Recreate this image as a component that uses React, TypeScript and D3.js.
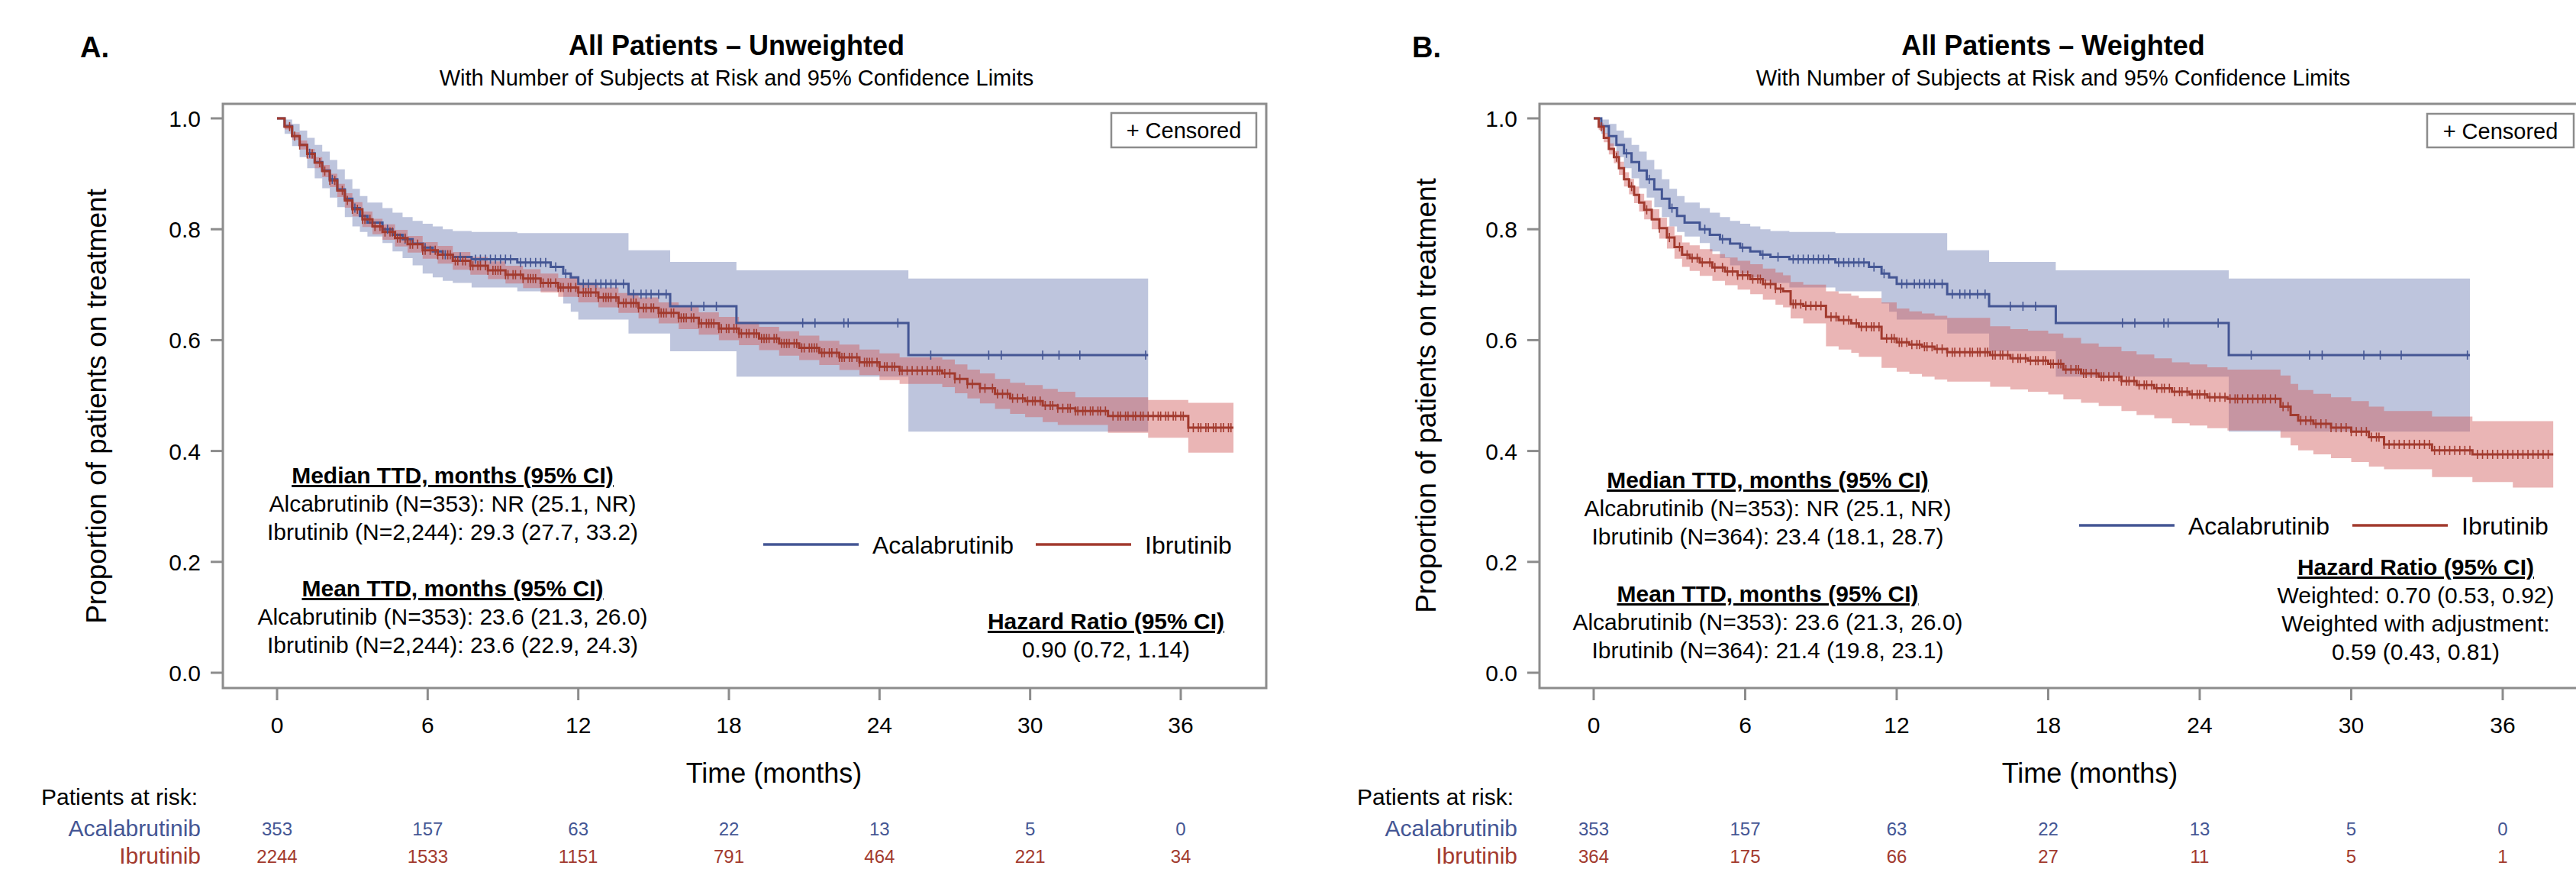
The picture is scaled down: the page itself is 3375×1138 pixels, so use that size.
import React from 'react';
import * as d3 from 'd3';

const W = 3375;
const H = 1138;
const FONT = "'Liberation Sans', Arial, Helvetica, sans-serif";
const BLUE = '#445694';
const RED = '#A23A2E';
const BLUE_FILL = '#6F7EB3';
const RED_FILL = '#D05B5B';
const AXIS = '#8C8C8C';

// ---- Acalabrutinib (same cohort in both panels) ----
const acalaTime = [0, 0.3, 0.6, 0.9, 1.2, 1.5, 1.8, 2.1, 2.4, 2.7, 3.0, 3.3, 3.6, 4.2, 4.6, 5.0, 5.4, 5.8, 6.2, 6.6, 7.0, 7.75, 9.57, 10.9, 11.4, 11.7, 12.0, 14.0, 15.66, 18.3, 25.15, 34.7];
const acalaSurv = [1.0, 0.986, 0.968, 0.952, 0.937, 0.921, 0.906, 0.89, 0.872, 0.855, 0.838, 0.824, 0.812, 0.8, 0.79, 0.782, 0.774, 0.767, 0.76, 0.754, 0.75, 0.746, 0.74, 0.732, 0.72, 0.713, 0.7015, 0.683, 0.661, 0.631, 0.573, 0.573];
const acalaLower = [1.0, 0.972, 0.95, 0.93, 0.91, 0.892, 0.874, 0.857, 0.84, 0.822, 0.805, 0.795, 0.787, 0.775, 0.76, 0.748, 0.735, 0.72, 0.713, 0.707, 0.703, 0.695, 0.688, 0.688, 0.666, 0.651, 0.637, 0.612, 0.58, 0.534, 0.435, 0.435];
const acalaUpper = [1.0, 0.998, 0.99, 0.978, 0.965, 0.952, 0.94, 0.925, 0.908, 0.89, 0.873, 0.86, 0.848, 0.838, 0.83, 0.822, 0.815, 0.81, 0.805, 0.8, 0.797, 0.795, 0.793, 0.793, 0.793, 0.793, 0.793, 0.762, 0.741, 0.726, 0.711, 0.711];
const acalaCensored = [1.3, 2.2, 3.1, 4.4, 5.1, 5.9, 6.7, 7.3, 7.9, 8.1, 8.3, 8.5, 8.7, 8.9, 9.1, 9.3, 9.7, 9.9, 10.1, 10.3, 10.5, 10.7, 11.1, 11.5, 12.2, 12.4, 12.7, 12.9, 13.1, 13.3, 13.5, 13.8, 14.2, 14.5, 14.7, 14.9, 15.2, 15.5, 16.5, 17.0, 17.5, 20.94, 21.43, 22.58, 22.75, 24.73, 26.04, 28.35, 28.85, 30.5, 31.15, 31.98, 34.6];

// ---- Ibrutinib, unweighted (panel A) ----
const ibruATime = [0, 0.3, 0.6, 0.9, 1.2, 1.5, 1.8, 2.1, 2.4, 2.7, 3.0, 3.4, 3.8, 4.2, 4.7, 5.2, 5.8, 6.4, 7.0, 7.7, 8.4, 9.1, 9.8, 10.5, 11.2, 12.0, 12.8, 13.6, 14.4, 15.2, 16.0, 16.8, 17.6, 18.4, 19.2, 20.0, 20.8, 21.6, 22.4, 23.2, 24.0, 24.8, 26.5, 27.0, 27.5, 28.0, 28.6, 29.2, 29.8, 30.5, 31.1, 31.8, 33.1, 34.7, 36.3, 38.1];
const ibruASurv = [1.0, 0.985, 0.968, 0.952, 0.936, 0.92, 0.905, 0.888, 0.87, 0.852, 0.836, 0.818, 0.805, 0.795, 0.784, 0.773, 0.762, 0.754, 0.743, 0.734, 0.726, 0.718, 0.711, 0.703, 0.695, 0.686, 0.677, 0.667, 0.658, 0.649, 0.64, 0.63, 0.621, 0.612, 0.603, 0.594, 0.586, 0.577, 0.569, 0.56, 0.552, 0.545, 0.54, 0.53, 0.521, 0.513, 0.503, 0.495, 0.49, 0.482, 0.477, 0.472, 0.463, 0.463, 0.442, 0.442];
const ibruALower = [1.0, 0.98, 0.961, 0.944, 0.927, 0.91, 0.894, 0.876, 0.858, 0.839, 0.823, 0.804, 0.791, 0.781, 0.769, 0.758, 0.747, 0.738, 0.727, 0.718, 0.71, 0.702, 0.694, 0.686, 0.678, 0.668, 0.659, 0.649, 0.639, 0.63, 0.62, 0.61, 0.6, 0.591, 0.582, 0.572, 0.564, 0.555, 0.546, 0.537, 0.528, 0.521, 0.515, 0.504, 0.495, 0.486, 0.476, 0.467, 0.461, 0.452, 0.447, 0.447, 0.433, 0.424, 0.397, 0.397];
const ibruAUpper = [1.0, 0.99, 0.975, 0.96, 0.945, 0.93, 0.916, 0.9, 0.882, 0.865, 0.849, 0.832, 0.819, 0.809, 0.799, 0.788, 0.777, 0.77, 0.759, 0.75, 0.742, 0.734, 0.728, 0.72, 0.712, 0.704, 0.695, 0.685, 0.677, 0.668, 0.66, 0.65, 0.642, 0.633, 0.624, 0.616, 0.608, 0.599, 0.592, 0.583, 0.576, 0.569, 0.565, 0.556, 0.547, 0.54, 0.53, 0.523, 0.519, 0.512, 0.507, 0.497, 0.497, 0.492, 0.487, 0.487];
const ibruACensored = [0.5, 0.7, 0.9, 1.2, 1.4, 1.7, 1.9, 2.1, 2.3, 2.6, 2.8, 3.0, 3.2, 3.4, 3.5, 3.7, 3.9, 4.1, 4.3, 4.5, 4.6, 4.8, 4.9, 5.1, 5.3, 5.4, 5.6, 5.8, 5.9, 6.1, 6.3, 6.4, 6.6, 6.8, 6.9, 7.1, 7.2, 7.4, 7.5, 7.7, 7.8, 8.0, 8.1, 8.3, 8.4, 8.6, 8.7, 8.8, 8.9, 9.1, 9.2, 9.4, 9.5, 9.7, 9.8, 10.0, 10.1, 10.2, 10.3, 10.5, 10.6, 10.8, 10.9, 11.1, 11.2, 11.3, 11.4, 11.6, 11.7, 11.9, 12.0, 12.2, 12.3, 12.4, 12.5, 12.7, 12.8, 13.0, 13.1, 13.2, 13.3, 13.5, 13.6, 13.8, 13.9, 14.1, 14.2, 14.3, 14.4, 14.6, 14.7, 14.9, 15.0, 15.2, 15.3, 15.4, 15.5, 15.7, 15.8, 16.0, 16.1, 16.2, 16.3, 16.5, 16.6, 16.8, 16.9, 17.1, 17.2, 17.3, 17.4, 17.6, 17.7, 17.9, 18.0, 18.2, 18.3, 18.4, 18.5, 18.7, 18.8, 19.0, 19.1, 19.3, 19.4, 19.5, 19.6, 19.8, 19.9, 20.1, 20.2, 20.3, 20.4, 20.6, 20.7, 20.9, 21.0, 21.2, 21.3, 21.4, 21.5, 21.7, 21.8, 22.0, 22.1, 22.3, 22.4, 22.5, 22.6, 22.8, 22.9, 23.1, 23.2, 23.4, 23.5, 23.6, 23.7, 23.9, 24.0, 24.2, 24.3, 24.5, 24.6, 24.8, 24.9, 25.1, 25.3, 25.5, 25.7, 25.9, 26.1, 26.3, 26.4, 26.6, 26.8, 27.0, 27.2, 27.5, 27.7, 28.0, 28.2, 28.5, 28.7, 28.9, 29.1, 29.3, 29.5, 29.7, 29.9, 30.1, 30.2, 30.4, 30.6, 30.8, 30.9, 31.1, 31.3, 31.5, 31.6, 31.8, 31.9, 32.1, 32.2, 32.4, 32.5, 32.7, 32.8, 33.0, 33.3, 33.5, 33.6, 33.8, 33.9, 34.1, 34.2, 34.4, 34.5, 34.7, 34.9, 35.1, 35.2, 35.4, 35.5, 35.7, 35.8, 36.0, 36.1, 36.3, 36.5, 36.7, 36.8, 37.0, 37.1, 37.3, 37.4, 37.6, 37.7, 37.9, 38.0];

// ---- Ibrutinib, weighted (panel B) ----
const ibruBTime = [0, 0.2, 0.4, 0.6, 0.8, 1.0, 1.2, 1.4, 1.6, 1.8, 2.0, 2.3, 2.6, 2.9, 3.2, 3.5, 3.8, 4.2, 4.7, 5.2, 5.7, 6.2, 6.7, 7.2, 7.5, 7.8, 8.3, 9.2, 9.7, 10.2, 10.5, 11.4, 12.0, 12.5, 13.0, 13.5, 14.0, 15.7, 16.5, 17.2, 18.0, 18.6, 19.3, 20.0, 20.9, 21.5, 22.2, 22.9, 23.6, 24.3, 25.1, 27.2, 27.6, 27.9, 28.5, 29.2, 30.0, 30.7, 31.3, 33.2, 34.8, 36.4, 38.0];
const ibruBSurv = [1.0, 0.985, 0.965, 0.945, 0.93, 0.91, 0.89, 0.877, 0.862, 0.848, 0.835, 0.818, 0.802, 0.785, 0.768, 0.754, 0.748, 0.74, 0.731, 0.724, 0.717, 0.71, 0.701, 0.693, 0.688, 0.665, 0.662, 0.642, 0.636, 0.63, 0.624, 0.603, 0.596, 0.592, 0.588, 0.584, 0.578, 0.573, 0.567, 0.563, 0.557, 0.547, 0.54, 0.534, 0.526, 0.519, 0.513, 0.507, 0.502, 0.497, 0.494, 0.48, 0.465, 0.455, 0.449, 0.442, 0.435, 0.425, 0.412, 0.401, 0.394, 0.394, 0.394];
const ibruBLower = [1.0, 0.979, 0.957, 0.935, 0.919, 0.898, 0.877, 0.863, 0.847, 0.832, 0.818, 0.8, 0.783, 0.765, 0.747, 0.732, 0.725, 0.716, 0.707, 0.699, 0.691, 0.683, 0.673, 0.664, 0.659, 0.639, 0.63, 0.589, 0.583, 0.577, 0.57, 0.55, 0.543, 0.539, 0.534, 0.529, 0.525, 0.516, 0.511, 0.507, 0.502, 0.493, 0.487, 0.481, 0.472, 0.465, 0.459, 0.45, 0.446, 0.441, 0.437, 0.424, 0.41, 0.401, 0.394, 0.387, 0.38, 0.372, 0.367, 0.353, 0.344, 0.334, 0.334];
const ibruBUpper = [1.0, 0.991, 0.973, 0.955, 0.941, 0.922, 0.903, 0.891, 0.877, 0.864, 0.852, 0.836, 0.821, 0.805, 0.789, 0.776, 0.771, 0.764, 0.755, 0.749, 0.743, 0.737, 0.729, 0.722, 0.717, 0.705, 0.7, 0.688, 0.684, 0.68, 0.676, 0.668, 0.657, 0.652, 0.648, 0.644, 0.64, 0.625, 0.62, 0.617, 0.612, 0.604, 0.594, 0.588, 0.58, 0.574, 0.567, 0.56, 0.556, 0.551, 0.547, 0.536, 0.521, 0.51, 0.503, 0.497, 0.49, 0.48, 0.472, 0.462, 0.454, 0.454, 0.454];
const ibruBCensored = [0.3, 0.9, 1.5, 2.1, 2.6, 3.0, 3.4, 3.7, 3.9, 4.1, 4.3, 4.6, 4.8, 5.1, 5.3, 5.5, 5.7, 5.9, 6.1, 6.3, 6.5, 6.6, 6.8, 7.0, 7.2, 7.4, 7.9, 8.0, 8.2, 8.4, 8.6, 8.8, 9.0, 9.4, 9.6, 9.9, 10.1, 10.4, 10.6, 10.8, 11.0, 11.1, 11.3, 11.6, 11.8, 11.9, 12.1, 12.2, 12.4, 12.6, 12.8, 12.9, 13.1, 13.2, 13.4, 13.6, 13.8, 14.0, 14.2, 14.3, 14.5, 14.7, 14.9, 15.0, 15.2, 15.3, 15.5, 15.6, 15.8, 15.9, 16.1, 16.2, 16.4, 16.6, 16.8, 16.9, 17.1, 17.3, 17.5, 17.6, 17.8, 17.9, 18.1, 18.2, 18.4, 18.5, 18.7, 18.9, 19.1, 19.2, 19.4, 19.5, 19.7, 19.9, 20.1, 20.2, 20.4, 20.6, 20.8, 20.9, 21.1, 21.2, 21.4, 21.6, 21.8, 21.9, 22.1, 22.3, 22.5, 22.6, 22.8, 23.0, 23.2, 23.3, 23.5, 23.7, 23.9, 24.0, 24.2, 24.4, 24.6, 24.8, 25.0, 25.2, 25.4, 25.5, 25.7, 25.9, 26.1, 26.3, 26.5, 26.6, 26.8, 27.0, 27.3, 27.5, 28.0, 28.2, 28.4, 28.6, 28.8, 29.0, 29.2, 29.4, 29.6, 29.8, 30.0, 30.2, 30.4, 30.6, 30.8, 31.0, 31.1, 31.3, 31.5, 31.7, 31.9, 32.1, 32.3, 32.5, 32.7, 32.9, 33.1, 33.3, 33.5, 33.7, 33.9, 34.1, 34.3, 34.5, 34.7, 35.0, 35.2, 35.4, 35.6, 35.8, 36.0, 36.2, 36.4, 36.6, 36.8, 37.0, 37.2, 37.4, 37.6, 37.8];

// ---- axes and risk table ----
const xTicks = [0, 6, 12, 18, 24, 30, 36];
const yTicks = [0, 0.2, 0.4, 0.6, 0.8, 1.0];
const riskTimes = [0, 6, 12, 18, 24, 30, 36];
const acalaRiskA = [353, 157, 63, 22, 13, 5, 0];
const ibruRiskA = [2244, 1533, 1151, 791, 464, 221, 34];
const acalaRiskB = [353, 157, 63, 22, 13, 5, 0];
const ibruRiskB = [364, 175, 66, 27, 11, 5, 1];

// ---- text blocks ----
const medianA = ['Alcabrutinib (N=353): NR (25.1, NR)', 'Ibrutinib (N=2,244): 29.3 (27.7, 33.2)'];
const meanA = ['Alcabrutinib (N=353): 23.6 (21.3, 26.0)', 'Ibrutinib (N=2,244): 23.6 (22.9, 24.3)'];
const hazardA = ['0.90 (0.72, 1.14)'];
const medianB = ['Alcabrutinib (N=353): NR (25.1, NR)', 'Ibrutinib (N=364): 23.4 (18.1, 28.7)'];
const meanB = ['Alcabrutinib (N=353): 23.6 (21.3, 26.0)', 'Ibrutinib (N=364): 21.4 (19.8, 23.1)'];
const hazardB = ['Weighted: 0.70 (0.53, 0.92)', 'Weighted with adjustment:', '0.59 (0.43, 0.81)'];

type Row = { t: number; s: number; lo: number; hi: number };
type Curve = { rows: Row[]; cens: number[]; color: string; fill: string };

const makeCurve = (t: number[], s: number[], lo: number[], hi: number[], cens: number[], color: string, fill: string): Curve => ({
  rows: t.map((v, i) => ({ t: v, s: s[i], lo: lo[i], hi: hi[i] })),
  cens,
  color,
  fill,
});

const survAt = (rows: Row[], t: number) => {
  let v = rows[0].s;
  for (const r of rows) if (r.t <= t) v = r.s;
  return v;
};

const acala = makeCurve(acalaTime, acalaSurv, acalaLower, acalaUpper, acalaCensored, BLUE, BLUE_FILL);
const ibruA = makeCurve(ibruATime, ibruASurv, ibruALower, ibruAUpper, ibruACensored, RED, RED_FILL);
const ibruB = makeCurve(ibruBTime, ibruBSurv, ibruBLower, ibruBUpper, ibruBCensored, RED, RED_FILL);

const panels = [
  {
    letter: 'A.', letterX: 105, title: 'All Patients – Unweighted', titleX: 965,
    left: 292, right: 1659, x0: 363, x36: 1547,
    yLabelX: 139, yLabelY: 532, xLabelX: 1014, tickRight: 263,
    box: { x: 1456, y: 148, w: 190, h: 45 },
    legY: 713, legBlue: 1000, legRed: 1357,
    curves: [acala, ibruA],
    blocks: [
      { x: 593, y: 633, head: 'Median TTD, months (95% CI)', lines: medianA },
      { x: 593, y: 781, head: 'Mean TTD, months (95% CI)', lines: meanA },
      { x: 1449, y: 824, head: 'Hazard Ratio (95% CI)', lines: hazardA },
    ],
    riskLeft: 54, riskRight: 263, acalaRisk: acalaRiskA, ibruRisk: ibruRiskA,
  },
  {
    letter: 'B.', letterX: 1850, title: 'All Patients – Weighted', titleX: 2690,
    left: 2017, right: 3386, x0: 2088, x36: 3279,
    yLabelX: 1881, yLabelY: 518, xLabelX: 2738, tickRight: 1988,
    box: { x: 3180, y: 149, w: 192, h: 44 },
    legY: 688, legBlue: 2724, legRed: 3082,
    curves: [acala, ibruB],
    blocks: [
      { x: 2316, y: 639, head: 'Median TTD, months (95% CI)', lines: medianB },
      { x: 2316, y: 788, head: 'Mean TTD, months (95% CI)', lines: meanB },
      { x: 3165, y: 753, head: 'Hazard Ratio (95% CI)', lines: hazardB },
    ],
    riskLeft: 1778, riskRight: 1988, acalaRisk: acalaRiskB, ibruRisk: ibruRiskB,
  },
];

const TOP = 136;
const BOTTOM = 901;

function Panel({ p }: { p: any }) {
  const x = d3.scaleLinear().domain([0, 36]).range([p.x0, p.x36]);
  const y = d3.scaleLinear().domain([0, 1]).range([881, 155]);
  const line = d3.line<Row>().x((d) => x(d.t)).y((d) => y(d.s)).curve(d3.curveStepAfter);
  const area = d3.area<Row>().x((d) => x(d.t)).y0((d) => y(d.lo)).y1((d) => y(d.hi)).curve(d3.curveStepAfter);

  return (
    <g>
      <text x={p.letterX} y={75} fontSize={38} fontWeight="bold">{p.letter}</text>
      <text x={p.titleX} y={72} fontSize={36} fontWeight="bold" textAnchor="middle">{p.title}</text>
      <text x={p.titleX} y={112} fontSize={29} textAnchor="middle">With Number of Subjects at Risk and 95% Confidence Limits</text>

      {/* CI bands */}
      {p.curves.map((c: Curve, i: number) => (
        <path key={'b' + i} d={area(c.rows) || ''} fill={c.fill} fillOpacity={0.45} stroke="none" />
      ))}
      {/* survival lines */}
      {p.curves.map((c: Curve, i: number) => (
        <path key={'l' + i} d={line(c.rows) || ''} fill="none" stroke={c.color} strokeWidth={3} />
      ))}
      {/* censor marks */}
      {p.curves.map((c: Curve, i: number) => (
        <g key={'c' + i} stroke={c.color} strokeWidth={1.6}>
          {c.cens.map((t, j) => {
            const cy = y(survAt(c.rows, t));
            return <line key={j} x1={x(t)} x2={x(t)} y1={cy - 6} y2={cy + 6} />;
          })}
        </g>
      ))}

      {/* frame */}
      <rect x={p.left} y={TOP} width={p.right - p.left} height={BOTTOM - TOP} fill="none" stroke={AXIS} strokeWidth={3} />
      {yTicks.map((v) => (
        <g key={v}>
          <line x1={p.left - 16} x2={p.left} y1={y(v)} y2={y(v)} stroke={AXIS} strokeWidth={3} />
          <text x={p.tickRight} y={y(v) + 11} fontSize={30} textAnchor="end">{d3.format('.1f')(v)}</text>
        </g>
      ))}
      {xTicks.map((v) => (
        <g key={v}>
          <line x1={x(v)} x2={x(v)} y1={BOTTOM} y2={BOTTOM + 16} stroke={AXIS} strokeWidth={3} />
          <text x={x(v)} y={960} fontSize={30} textAnchor="middle">{v}</text>
        </g>
      ))}
      <text x={p.xLabelX} y={1025} fontSize={36} textAnchor="middle">Time (months)</text>
      <text transform={`translate(${p.yLabelX},${p.yLabelY}) rotate(-90)`} fontSize={37} textAnchor="middle">
        Proportion of patients on treatment
      </text>

      {/* censored box */}
      <rect x={p.box.x} y={p.box.y} width={p.box.w} height={p.box.h} fill="white" stroke={AXIS} strokeWidth={2.5} />
      <text x={p.box.x + p.box.w / 2} y={p.box.y + 33} fontSize={29} textAnchor="middle">+ Censored</text>

      {/* legend */}
      <line x1={p.legBlue} x2={p.legBlue + 125} y1={p.legY} y2={p.legY} stroke={BLUE} strokeWidth={3.5} />
      <text x={p.legBlue + 143} y={p.legY + 12} fontSize={32}>Acalabrutinib</text>
      <line x1={p.legRed} x2={p.legRed + 125} y1={p.legY} y2={p.legY} stroke={RED} strokeWidth={3.5} />
      <text x={p.legRed + 143} y={p.legY + 12} fontSize={32}>Ibrutinib</text>

      {/* stats */}
      {p.blocks.map((b: any, i: number) => (
        <g key={'s' + i} textAnchor="middle" fontSize={30}>
          <text x={b.x} y={b.y} fontWeight="bold" textDecoration="underline">{b.head}</text>
          {b.lines.map((l: string, j: number) => (
            <text key={j} x={b.x} y={b.y + 37 * (j + 1)}>{l}</text>
          ))}
        </g>
      ))}

      {/* risk table */}
      <text x={p.riskLeft} y={1054} fontSize={30}>Patients at risk:</text>
      <text x={p.riskRight} y={1095} fontSize={30} textAnchor="end" fill={BLUE}>Acalabrutinib</text>
      <text x={p.riskRight} y={1131} fontSize={30} textAnchor="end" fill={RED}>Ibrutinib</text>
      {riskTimes.map((t, i) => (
        <g key={'r' + t} fontSize={24} textAnchor="middle">
          <text x={x(t)} y={1094} fill={BLUE}>{p.acalaRisk[i]}</text>
          <text x={x(t)} y={1130} fill={RED}>{p.ibruRisk[i]}</text>
        </g>
      ))}
    </g>
  );
}

export default function App() {
  return (
    <svg
      width={W}
      height={H}
      viewBox={`0 0 ${W} ${H}`}
      style={{ position: 'absolute', left: 0, top: 0, background: 'white' }}
      fontFamily={FONT}
    >
      <rect x={0} y={0} width={W} height={H} fill="white" />
      {panels.map((p, i) => (
        <Panel key={i} p={p} />
      ))}
    </svg>
  );
}
